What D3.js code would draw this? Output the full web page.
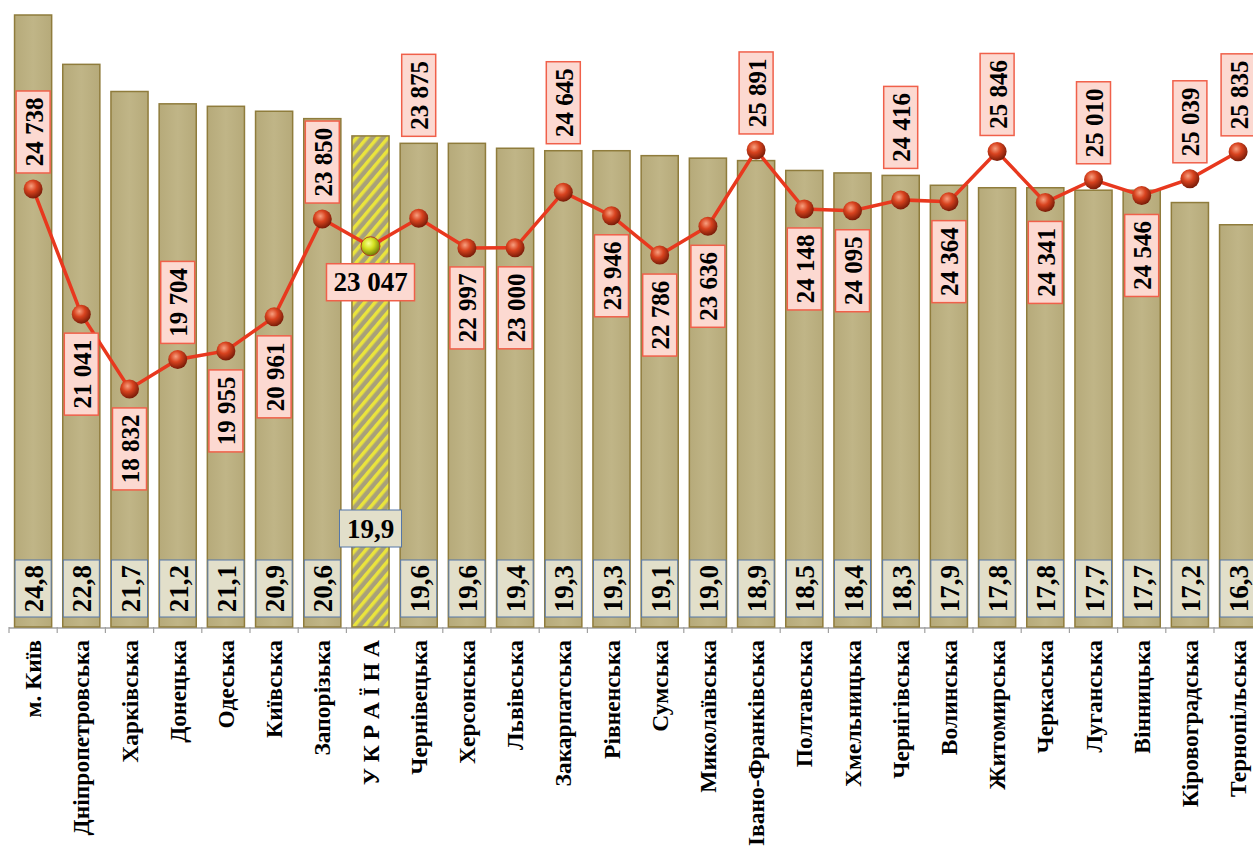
<!DOCTYPE html>
<html>
<head>
<meta charset="utf-8">
<script src="https://cdn.jsdelivr.net/npm/d3@7"></script>
<style>
  body { margin: 0; background: #fff; }
  svg text { font-family: "Liberation Serif", "Times New Roman", serif; font-weight: bold; }
</style>
</head>
<body>
<div id="chart"></div>
<script>
// regions, ordered as in the chart
var regions = ['м. Київ', 'Дніпропетровська', 'Харківська', 'Донецька', 'Одеська', 'Київська',
    'Запорізька', 'У К Р А Ї Н А', 'Чернівецька', 'Херсонська', 'Львівська', 'Закарпатська',
    'Рівненська', 'Сумська', 'Миколаївська', 'Івано-Франківська', 'Полтавська', 'Хмельницька',
    'Чернігівська', 'Волинська', 'Житомирська', 'Черкаська', 'Луганська', 'Вінницька',
    'Кіровоградська', 'Тернопільська'];

// bar values
var barValues = [24.8, 22.8, 21.7, 21.2, 21.1, 20.9, 20.6, 19.9, 19.6, 19.6, 19.4, 19.3,
    19.3, 19.1, 19.0, 18.9, 18.5, 18.4, 18.3, 17.9, 17.8, 17.8, 17.7, 17.7, 17.2, 16.3];

// line values
var lineValues = [24738, 21041, 18832, 19704, 19955, 20961, 23850, 23047, 23875, 22997, 23000, 24645,
    23946, 22786, 23636, 25891, 24148, 24095, 24416, 24364, 25846, 24341, 25010, 24546, 25039, 25835];

// where each line label goes: a = above, b = below, t = above the bar top
var labelSide = ['a', 'b', 'b', 'a', 'b', 'b', 'a', 'b', 't', 'b', 'b', 't',
    'b', 'b', 'b', 'a', 'b', 'b', 't', 'b', 'a', 'b', 'a', 'b', 'a', 'a'];

var W = 1253, H = 849;
var base = 627;
var total = 7; // index of УКРАЇНА

var svg = d3.select('#chart').append('svg')
    .attr('width', W)
    .attr('height', H);

var defs = svg.append('defs');

// bar texture
var bg = defs.append('linearGradient').attr('id', 'barFill');
bg.append('stop').attr('offset', '0%').attr('stop-color', '#b6aa7a');
bg.append('stop').attr('offset', '50%').attr('stop-color', '#c0b587');
bg.append('stop').attr('offset', '100%').attr('stop-color', '#b6aa7a');

// hatched bar for Ukraine
var pat = defs.append('pattern').attr('id', 'hatch')
    .attr('patternUnits', 'userSpaceOnUse')
    .attr('width', 8).attr('height', 8)
    .attr('patternTransform', 'rotate(40)');
pat.append('rect').attr('width', 8).attr('height', 8).attr('fill', '#a8a07a');
pat.append('rect').attr('width', 3.5).attr('height', 8).attr('fill', '#eae43c');

// sphere markers
function sphere(id, light, mid, dark) {
    var g = defs.append('radialGradient').attr('id', id)
        .attr('cx', '40%').attr('cy', '35%').attr('r', '65%');
    g.append('stop').attr('offset', '0%').attr('stop-color', light);
    g.append('stop').attr('offset', '45%').attr('stop-color', mid);
    g.append('stop').attr('offset', '100%').attr('stop-color', dark);
}
sphere('ball', '#f7a080', '#d8431f', '#7a1c08');
sphere('ballY', '#f8ff90', '#d4e020', '#6e7a08');

var x = d3.scaleBand()
    .domain(regions)
    .range([9, 9 + 26 * 48.2])
    .paddingInner(0.23)
    .paddingOuter(0.115);

var y = d3.scaleLinear().domain([0, 24.8]).range([base, 15]);
var y2 = d3.scaleLinear().domain([11800, 30320]).range([base, 0]);

// axis line + ticks at band boundaries
var axis = svg.append('g').attr('class', 'axis');
axis.append('line')
    .attr('x1', 9).attr('x2', W)
    .attr('y1', base + 1).attr('y2', base + 1)
    .attr('stroke', '#a0a0a0').attr('stroke-width', 1.5);
axis.selectAll('line.tick').data(d3.range(27))
    .enter().append('line')
    .attr('class', 'tick')
    .attr('x1', function(i) { return 9 + i * x.step(); })
    .attr('x2', function(i) { return 9 + i * x.step(); })
    .attr('y1', base).attr('y2', base + 6)
    .attr('stroke', '#a0a0a0').attr('stroke-width', 1.2);

// bars
svg.selectAll('rect.bar').data(barValues)
    .enter().append('rect')
    .attr('class', 'bar')
    .attr('x', function(d, i) { return x(regions[i]); })
    .attr('y', function(d) { return y(d); })
    .attr('width', x.bandwidth())
    .attr('height', function(d) { return base - y(d); })
    .attr('fill', function(d, i) { return i === total ? 'url(#hatch)' : 'url(#barFill)'; })
    .attr('stroke', '#8f7c3c')
    .attr('stroke-width', 1.5);

// bar value labels
var bl = svg.selectAll('g.barLabel').data(barValues)
    .enter().append('g')
    .attr('class', 'barLabel');
bl.append('rect')
    .attr('x', function(d, i) { return i === total ? x(regions[i]) + x.bandwidth() / 2 - 31 : x(regions[i]) + 0.5; })
    .attr('y', function(d, i) { return i === total ? 510 : 560; })
    .attr('width', function(d, i) { return i === total ? 62 : x.bandwidth() - 1; })
    .attr('height', function(d, i) { return i === total ? 37 : 57; })
    .attr('fill', '#e2dfca')
    .attr('stroke', '#5577a8')
    .attr('stroke-width', 1);
bl.append('text')
    .attr('transform', function(d, i) {
        var cx = x(regions[i]) + x.bandwidth() / 2;
        return i === total ? 'translate(' + cx + ',529)' : 'translate(' + (cx + 1) + ',588.5) rotate(-90)';
    })
    .attr('text-anchor', 'middle')
    .attr('dominant-baseline', 'central')
    .attr('font-size', function(d, i) { return i === total ? 27 : 27; })
    .text(function(d) { return d3.format('.1f')(d).replace('.', ','); });

// line
var line = d3.line()
    .x(function(d, i) { return x(regions[i]) + x.bandwidth() / 2; })
    .y(function(d) { return y2(d); });
svg.append('path')
    .datum(lineValues)
    .attr('d', line)
    .attr('fill', 'none')
    .attr('stroke', '#e8381e')
    .attr('stroke-width', 3.5);

// line labels
var fmt = function(v) { return d3.format(',')(v).replace(',', ' '); };
var lbW = 34, lbH = 82;
var ll = svg.selectAll('g.lineLabel').data(lineValues)
    .enter().append('g')
    .attr('class', 'lineLabel')
    .attr('transform', function(d, i) {
        var cx = x(regions[i]) + x.bandwidth() / 2;
        var py = y2(d);
        var cy;
        if (i === total) cy = py + 18 + 18;
        else if (labelSide[i] === 'b') cy = py + 19 + lbH / 2;
        else if (labelSide[i] === 't') cy = y(barValues[i]) - 7 - lbH / 2;
        else cy = py - 16 - lbH / 2;
        return 'translate(' + cx + ',' + cy + ')';
    });
ll.append('rect')
    .attr('x', function(d, i) { return i === total ? -44 : -lbW / 2; })
    .attr('y', function(d, i) { return i === total ? -18.5 : -lbH / 2; })
    .attr('width', function(d, i) { return i === total ? 88 : lbW; })
    .attr('height', function(d, i) { return i === total ? 37 : lbH; })
    .attr('fill', '#fcd9d1')
    .attr('stroke', '#f0604a')
    .attr('stroke-width', 1.5);
ll.append('text')
    .attr('transform', function(d, i) { return i === total ? null : 'translate(1,0) rotate(-90)'; })
    .attr('text-anchor', 'middle')
    .attr('dominant-baseline', 'central')
    .attr('font-size', function(d, i) { return i === total ? 27 : 25; })
    .text(fmt);

// markers
svg.selectAll('circle.pt').data(lineValues)
    .enter().append('circle')
    .attr('class', 'pt')
    .attr('cx', function(d, i) { return x(regions[i]) + x.bandwidth() / 2; })
    .attr('cy', function(d) { return y2(d); })
    .attr('r', 9.5)
    .attr('fill', function(d, i) { return i === total ? 'url(#ballY)' : 'url(#ball)'; })
    .attr('stroke', function(d, i) { return i === total ? '#b04020' : 'none'; })
    .attr('stroke-width', 1);

// category labels
svg.selectAll('text.cat').data(regions)
    .enter().append('text')
    .attr('class', 'cat')
    .attr('transform', function(d) {
        return 'translate(' + (x(d) + x.bandwidth() / 2) + ',640) rotate(-90)';
    })
    .attr('text-anchor', 'end')
    .attr('dominant-baseline', 'central')
    .attr('font-size', 23.5)
    .text(function(d) { return d; });
</script>
</body>
</html>
